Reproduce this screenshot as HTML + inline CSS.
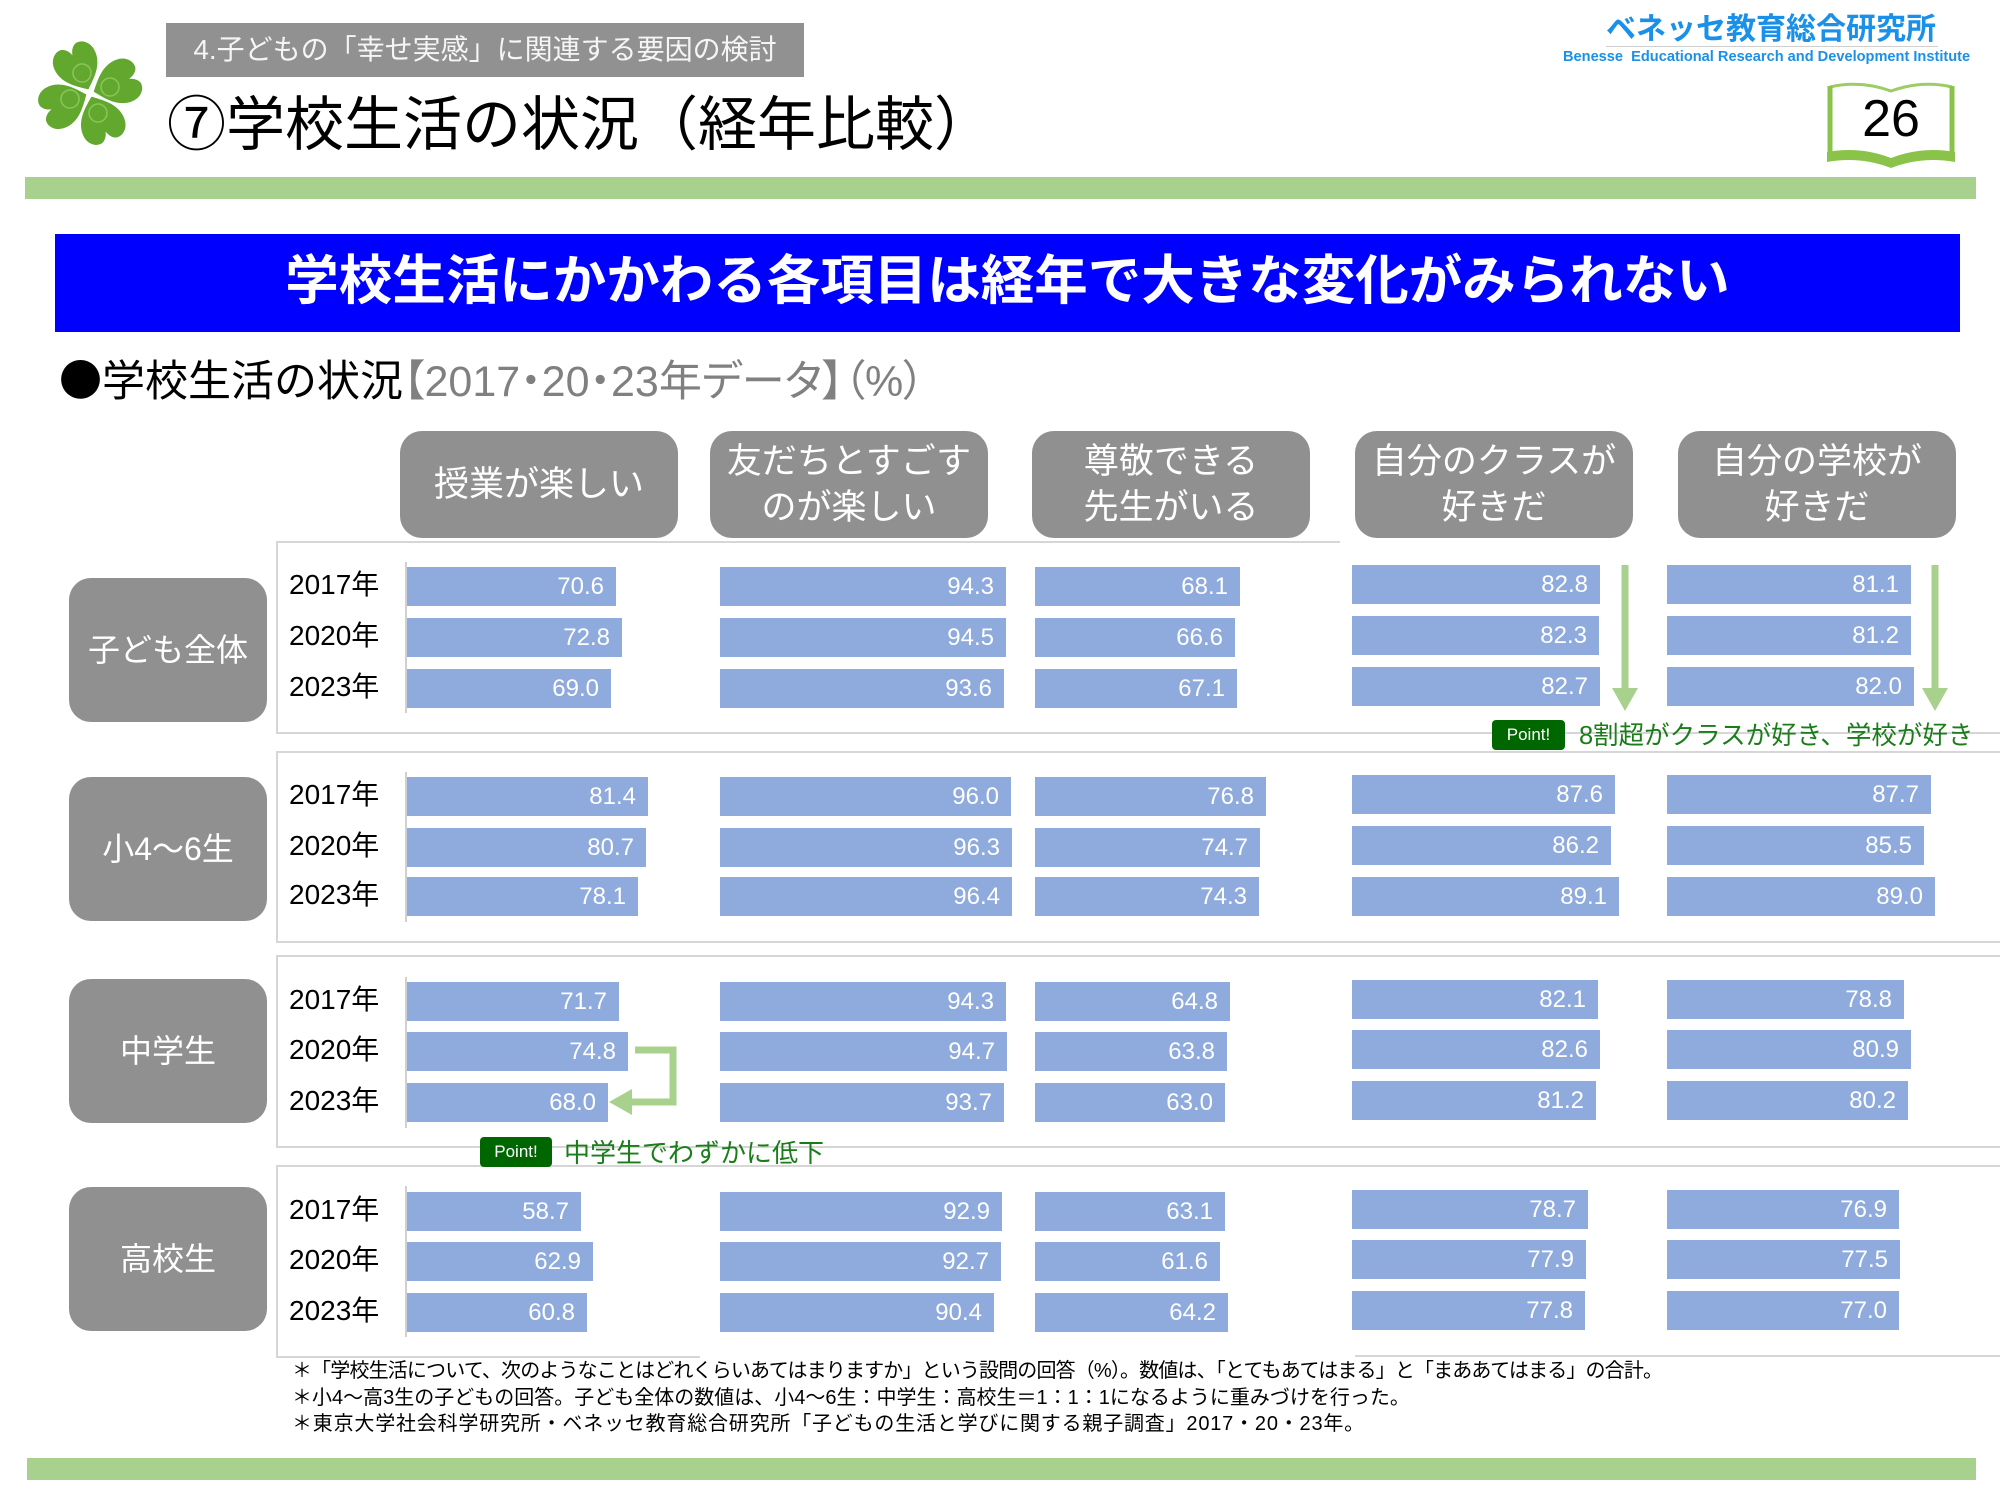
<!DOCTYPE html>
<html><head><meta charset="utf-8">
<style>
*{margin:0;padding:0;box-sizing:border-box}
html,body{width:2000px;height:1500px;background:#fff;overflow:hidden}
body{position:relative;font-family:"Liberation Sans","Noto Sans CJK JP",sans-serif;color:#000}
.a{position:absolute;white-space:nowrap}
.t{position:absolute;white-space:nowrap;line-height:1}
.hb{position:absolute;top:431px;width:278px;height:107px;background:#909090;border-radius:22px;color:#fff;font-size:35px;line-height:46px;display:flex;align-items:center;justify-content:center;text-align:center}
.lb{position:absolute;left:69px;width:198px;height:144px;background:#909090;border-radius:22px;color:#fff;font-size:32px;line-height:1;display:flex;align-items:center;justify-content:center}
.yr{position:absolute;left:289px;font-size:28px;line-height:1;white-space:nowrap}
.b{position:absolute;height:39px;background:#8faadc;color:#fff;font-size:24px;line-height:39px;text-align:right;padding-right:12px;white-space:nowrap}
.hl{position:absolute;height:2px;background:#d6d6d6}
.vl{position:absolute;width:2px;background:#d6d6d6}
.ax{position:absolute;left:405px;width:2px;background:#d0d0d0}
.pt{position:absolute;background:#006600;color:#fff;border-radius:4px;font-size:17px;display:flex;align-items:center;justify-content:center}
.pg{position:absolute;color:#1a7d1a;line-height:1;white-space:nowrap}
.fn{position:absolute;left:292px;font-size:20px;line-height:1;white-space:nowrap}
</style></head><body>

<!-- clover -->
<svg class="a" style="left:30px;top:35px" width="120" height="120" viewBox="30 35 120 120">
<g transform="translate(90,93)" fill="#62a82e" stroke="#ffffff" stroke-width="1.5">
<path transform="rotate(-25)" d="M0,-3 C-9,-10 -23,-20 -23,-36 C-23,-47 -15,-53 -8,-52 C-4,-51 -1,-47 0,-44 C1,-47 4,-51 8,-52 C15,-53 23,-47 23,-36 C23,-20 9,-10 0,-3Z"/>
<path transform="rotate(70)" d="M0,-3 C-9,-10 -23,-20 -23,-36 C-23,-47 -15,-53 -8,-52 C-4,-51 -1,-47 0,-44 C1,-47 4,-51 8,-52 C15,-53 23,-47 23,-36 C23,-20 9,-10 0,-3Z"/>
<path transform="rotate(158)" d="M0,-3 C-9,-10 -23,-20 -23,-36 C-23,-47 -15,-53 -8,-52 C-4,-51 -1,-47 0,-44 C1,-47 4,-51 8,-52 C15,-53 23,-47 23,-36 C23,-20 9,-10 0,-3Z"/>
<path transform="rotate(247)" d="M0,-3 C-9,-10 -23,-20 -23,-36 C-23,-47 -15,-53 -8,-52 C-4,-51 -1,-47 0,-44 C1,-47 4,-51 8,-52 C15,-53 23,-47 23,-36 C23,-20 9,-10 0,-3Z"/>
</g>
<g transform="translate(90,93)" fill="none" stroke="#8cc55a" stroke-width="1.5">
<circle cx="-8" cy="-20" r="9"/><circle cx="20" cy="-6" r="9"/><circle cx="8" cy="20" r="9"/><circle cx="-20" cy="6" r="9"/>
</g>
</svg>

<!-- top gray section box -->
<div class="a" style="left:166px;top:23px;width:638px;height:54px;background:#919191;color:#f5f5f5;font-size:28px;line-height:1;display:flex;align-items:center;justify-content:center">4.子どもの「幸せ実感」に関連する要因の検討</div>

<!-- title -->
<div class="t" style="left:167px;top:96px;font-size:59px">⑦学校生活の状況（経年比較）</div>

<!-- logo -->
<div class="t" style="left:1606px;top:15px;font-size:30px;font-weight:bold;color:#1a90e8">ベネッセ教育総合研究所</div>
<div class="a" style="left:1606px;top:46px;width:332px;height:1px;background:#cfcfcf"></div>
<div class="t" style="left:1563px;top:50px;font-size:14.6px;font-weight:bold;color:#1a90e8;letter-spacing:0px">Benesse&nbsp; Educational Research and Development Institute</div>

<!-- book page number -->
<svg class="a" style="left:1818px;top:76px" width="146" height="98" viewBox="1818 76 146 98">
<path d="M1830,87 Q1860,80 1891,91 Q1922,80 1952,87" fill="none" stroke="#9ccc65" stroke-width="3"/>
<line x1="1830" y1="86" x2="1830" y2="158" stroke="#8bc34a" stroke-width="5"/>
<line x1="1952" y1="86" x2="1952" y2="158" stroke="#8bc34a" stroke-width="5"/>
<path d="M1827,152 Q1860,146 1891,158 Q1922,146 1955,152 L1955,162 Q1922,156 1891,168 Q1860,156 1827,162 Z" fill="#8bc34a"/>
</svg>
<div class="t" style="left:1827px;top:93px;width:128px;text-align:center;font-size:52px">26</div>

<!-- green bars -->
<div class="a" style="left:25px;top:177px;width:1951px;height:22px;background:#a9d18e"></div>
<div class="a" style="left:27px;top:1458px;width:1949px;height:22px;background:#a9d18e"></div>

<!-- blue banner -->
<div class="a" style="left:55px;top:234px;width:1905px;height:98px;background:#0000ff"></div>
<div class="t" style="left:55px;top:255px;width:1905px;text-align:center;font-size:53.5px;font-weight:bold;color:#fff">学校生活にかかわる各項目は経年で大きな変化がみられない</div>

<!-- subtitle -->
<div class="t" style="left:59px;top:357px;font-size:43px"><span style="font-family:'Noto Sans CJK JP',sans-serif">●</span>学校生活の状況<span style="color:#808080;font-feature-settings:'palt'">【2017・20・23年データ】（%）</span></div>

<!-- header boxes -->
<div class="hb" style="left:400px">授業が楽しい</div>
<div class="hb" style="left:710px">友だちとすごす<br>のが楽しい</div>
<div class="hb" style="left:1032px">尊敬できる<br>先生がいる</div>
<div class="hb" style="left:1355px">自分のクラスが<br>好きだ</div>
<div class="hb" style="left:1678px">自分の学校が<br>好きだ</div>

<!-- frame lines -->
<div class="hl" style="left:276px;top:541px;width:1064px"></div>
<div class="hl" style="left:276px;top:732px;width:1724px"></div>
<div class="vl" style="left:276px;top:541px;height:193px"></div>

<div class="hl" style="left:276px;top:751px;width:1724px"></div>
<div class="hl" style="left:276px;top:941px;width:1724px"></div>
<div class="vl" style="left:276px;top:751px;height:192px"></div>

<div class="hl" style="left:276px;top:955px;width:1724px"></div>
<div class="hl" style="left:276px;top:1146px;width:1724px"></div>
<div class="vl" style="left:276px;top:955px;height:193px"></div>

<div class="hl" style="left:276px;top:1165px;width:1724px"></div>
<div class="hl" style="left:276px;top:1356px;width:424px"></div>
<div class="hl" style="left:1355px;top:1355px;width:645px"></div>
<div class="vl" style="left:276px;top:1165px;height:193px"></div>

<!-- axis lines -->
<div class="ax" style="top:562px;height:151px"></div>
<div class="ax" style="top:772px;height:150px"></div>
<div class="ax" style="top:977px;height:151px"></div>
<div class="ax" style="top:1186px;height:151px"></div>

<!-- group labels -->
<div class="lb" style="top:578px">子ども全体</div>
<div class="lb" style="top:777px">小4～6生</div>
<div class="lb" style="top:979px">中学生</div>
<div class="lb" style="top:1187px">高校生</div>

<!-- years -->
<div class="yr" style="top:571px">2017年</div>
<div class="yr" style="top:622px">2020年</div>
<div class="yr" style="top:673px">2023年</div>

<div class="yr" style="top:781px">2017年</div>
<div class="yr" style="top:832px">2020年</div>
<div class="yr" style="top:881px">2023年</div>

<div class="yr" style="top:986px">2017年</div>
<div class="yr" style="top:1036px">2020年</div>
<div class="yr" style="top:1087px">2023年</div>

<div class="yr" style="top:1196px">2017年</div>
<div class="yr" style="top:1246px">2020年</div>
<div class="yr" style="top:1297px">2023年</div>

<!-- bars G1 -->
<div class="b" style="left:407px;top:567px;width:209px">70.6</div>
<div class="b" style="left:407px;top:618px;width:215px">72.8</div>
<div class="b" style="left:407px;top:669px;width:204px">69.0</div>
<div class="b" style="left:720px;top:567px;width:286px">94.3</div>
<div class="b" style="left:720px;top:618px;width:286px">94.5</div>
<div class="b" style="left:720px;top:669px;width:284px">93.6</div>
<div class="b" style="left:1035px;top:567px;width:205px">68.1</div>
<div class="b" style="left:1035px;top:618px;width:200px">66.6</div>
<div class="b" style="left:1035px;top:669px;width:202px">67.1</div>
<div class="b" style="left:1352px;top:565px;width:248px">82.8</div>
<div class="b" style="left:1352px;top:616px;width:247px">82.3</div>
<div class="b" style="left:1352px;top:667px;width:248px">82.7</div>
<div class="b" style="left:1667px;top:565px;width:244px">81.1</div>
<div class="b" style="left:1667px;top:616px;width:244px">81.2</div>
<div class="b" style="left:1667px;top:667px;width:247px">82.0</div>

<!-- bars G2 -->
<div class="b" style="left:407px;top:777px;width:241px">81.4</div>
<div class="b" style="left:407px;top:828px;width:239px">80.7</div>
<div class="b" style="left:407px;top:877px;width:231px">78.1</div>
<div class="b" style="left:720px;top:777px;width:291px">96.0</div>
<div class="b" style="left:720px;top:828px;width:292px">96.3</div>
<div class="b" style="left:720px;top:877px;width:292px">96.4</div>
<div class="b" style="left:1035px;top:777px;width:231px">76.8</div>
<div class="b" style="left:1035px;top:828px;width:225px">74.7</div>
<div class="b" style="left:1035px;top:877px;width:224px">74.3</div>
<div class="b" style="left:1352px;top:775px;width:263px">87.6</div>
<div class="b" style="left:1352px;top:826px;width:259px">86.2</div>
<div class="b" style="left:1352px;top:877px;width:267px">89.1</div>
<div class="b" style="left:1667px;top:775px;width:264px">87.7</div>
<div class="b" style="left:1667px;top:826px;width:257px">85.5</div>
<div class="b" style="left:1667px;top:877px;width:268px">89.0</div>

<!-- bars G3 -->
<div class="b" style="left:407px;top:982px;width:212px">71.7</div>
<div class="b" style="left:407px;top:1032px;width:221px">74.8</div>
<div class="b" style="left:407px;top:1083px;width:201px">68.0</div>
<div class="b" style="left:720px;top:982px;width:286px">94.3</div>
<div class="b" style="left:720px;top:1032px;width:287px">94.7</div>
<div class="b" style="left:720px;top:1083px;width:284px">93.7</div>
<div class="b" style="left:1035px;top:982px;width:195px">64.8</div>
<div class="b" style="left:1035px;top:1032px;width:192px">63.8</div>
<div class="b" style="left:1035px;top:1083px;width:190px">63.0</div>
<div class="b" style="left:1352px;top:980px;width:246px">82.1</div>
<div class="b" style="left:1352px;top:1030px;width:248px">82.6</div>
<div class="b" style="left:1352px;top:1081px;width:244px">81.2</div>
<div class="b" style="left:1667px;top:980px;width:237px">78.8</div>
<div class="b" style="left:1667px;top:1030px;width:244px">80.9</div>
<div class="b" style="left:1667px;top:1081px;width:241px">80.2</div>

<!-- bars G4 -->
<div class="b" style="left:407px;top:1192px;width:174px">58.7</div>
<div class="b" style="left:407px;top:1242px;width:186px">62.9</div>
<div class="b" style="left:407px;top:1293px;width:180px">60.8</div>
<div class="b" style="left:720px;top:1192px;width:282px">92.9</div>
<div class="b" style="left:720px;top:1242px;width:281px">92.7</div>
<div class="b" style="left:720px;top:1293px;width:274px">90.4</div>
<div class="b" style="left:1035px;top:1192px;width:190px">63.1</div>
<div class="b" style="left:1035px;top:1242px;width:185px">61.6</div>
<div class="b" style="left:1035px;top:1293px;width:193px">64.2</div>
<div class="b" style="left:1352px;top:1190px;width:236px">78.7</div>
<div class="b" style="left:1352px;top:1240px;width:234px">77.9</div>
<div class="b" style="left:1352px;top:1291px;width:233px">77.8</div>
<div class="b" style="left:1667px;top:1190px;width:232px">76.9</div>
<div class="b" style="left:1667px;top:1240px;width:233px">77.5</div>
<div class="b" style="left:1667px;top:1291px;width:232px">77.0</div>

<!-- arrows -->
<svg class="a" style="left:0;top:0" width="2000" height="1500" viewBox="0 0 2000 1500">
<rect x="1621.5" y="565" width="7" height="124" fill="#a9d18e"/>
<polygon points="1612,688 1638,688 1625,711" fill="#a9d18e"/>
<rect x="1931.5" y="565" width="7" height="124" fill="#a9d18e"/>
<polygon points="1922,688 1948,688 1935,711" fill="#a9d18e"/>
<polyline points="635,1050 673,1050 673,1102 630,1102" fill="none" stroke="#a9d18e" stroke-width="7"/>
<polygon points="609,1102 632,1089 632,1115" fill="#a9d18e"/>
</svg>

<!-- points -->
<div class="pt" style="left:1492px;top:720px;width:73px;height:30px">Point!</div>
<div class="pg" style="left:1579px;top:724px;font-size:25.5px">8割超がクラスが好き、学校が好き</div>
<div class="pt" style="left:480px;top:1137px;width:72px;height:30px">Point!</div>
<div class="pg" style="left:564px;top:1140px;font-size:26px">中学生でわずかに低下</div>

<!-- footnotes -->
<div class="fn" style="top:1361px;letter-spacing:-0.85px">＊「学校生活について、次のようなことはどれくらいあてはまりますか」という設問の回答（%）。数値は、「とてもあてはまる」と「まああてはまる」の合計。</div>
<div class="fn" style="top:1388px">＊小4～高3生の子どもの回答。子ども全体の数値は、小4～6生：中学生：高校生＝1：1：1になるように重みづけを行った。</div>
<div class="fn" style="top:1414px;letter-spacing:0.8px">＊東京大学社会科学研究所・ベネッセ教育総合研究所「子どもの生活と学びに関する親子調査」2017・20・23年。</div>

</body></html>
